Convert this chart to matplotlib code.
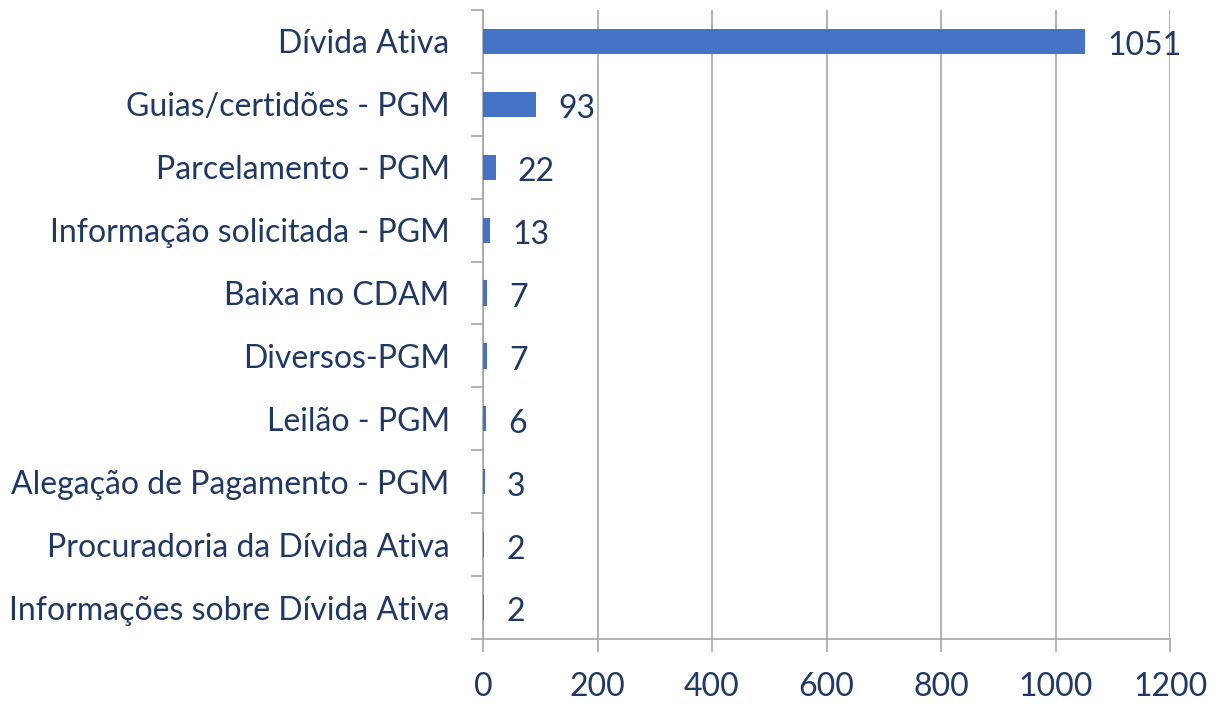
import matplotlib.pyplot as plt
import numpy as np

# categorias e valores (de cima para baixo)
categorias = ['Dívida Ativa', 'Guias/certidões - PGM', 'Parcelamento - PGM',
              'Informação solicitada - PGM', 'Baixa no CDAM', 'Diversos-PGM',
              'Leilão - PGM', 'Alegação de Pagamento - PGM',
              'Procuradoria da Dívida Ativa', 'Informações sobre Dívida Ativa']
valores = [1051, 93, 22, 13, 7, 7, 6, 3, 2, 2]
ticks_x = [0, 200, 400, 600, 800, 1000, 1200]

cor_barra = '#4472C4'
cor_texto = '#1F3864'
cor_grade = '#A6A6A6'
tam = 23

plt.rcParams['font.family'] = ['Lato', 'DejaVu Sans']

fig = plt.figure(figsize=(12.18, 7.04), dpi=100)
ax = fig.add_axes([483 / 1218, 65 / 704, 687 / 1218, 629 / 704])

n = len(categorias)
y = np.arange(n)[::-1]
ax.barh(y, valores, height=0.4, color=cor_barra, zorder=3)

for yi, v in zip(y, valores):
    ax.annotate(str(v), (v, yi), xytext=(16, -3.5), textcoords='offset points',
                va='center', ha='left', fontsize=tam, color=cor_texto)

ax.set_xlim(0, 1200)
ax.set_ylim(-0.5, n - 0.5)
ax.set_xticks(ticks_x)
ax.set_xticklabels([str(t) for t in ticks_x])

# rótulos das categorias no centro, marcas nas divisões
ax.set_yticks(y)
ax.set_yticklabels(categorias)
ax.set_yticks(np.arange(n + 1) - 0.5, minor=True)
ax.tick_params(axis='y', which='major', length=0, pad=24, labelsize=tam,
               labelcolor=cor_texto)
ax.tick_params(axis='y', which='minor', length=9, width=1.2, color=cor_grade)
ax.tick_params(axis='x', length=9, width=1.2, color=cor_grade, pad=15,
               labelsize=tam, labelcolor=cor_texto)

ax.xaxis.grid(True, color=cor_grade, linewidth=1.2, zorder=0)
for lado in ['top', 'right']:
    ax.spines[lado].set_visible(False)
for lado in ['left', 'bottom']:
    ax.spines[lado].set_color(cor_grade)
    ax.spines[lado].set_linewidth(1.2)

plt.savefig('out.png', dpi=100)
